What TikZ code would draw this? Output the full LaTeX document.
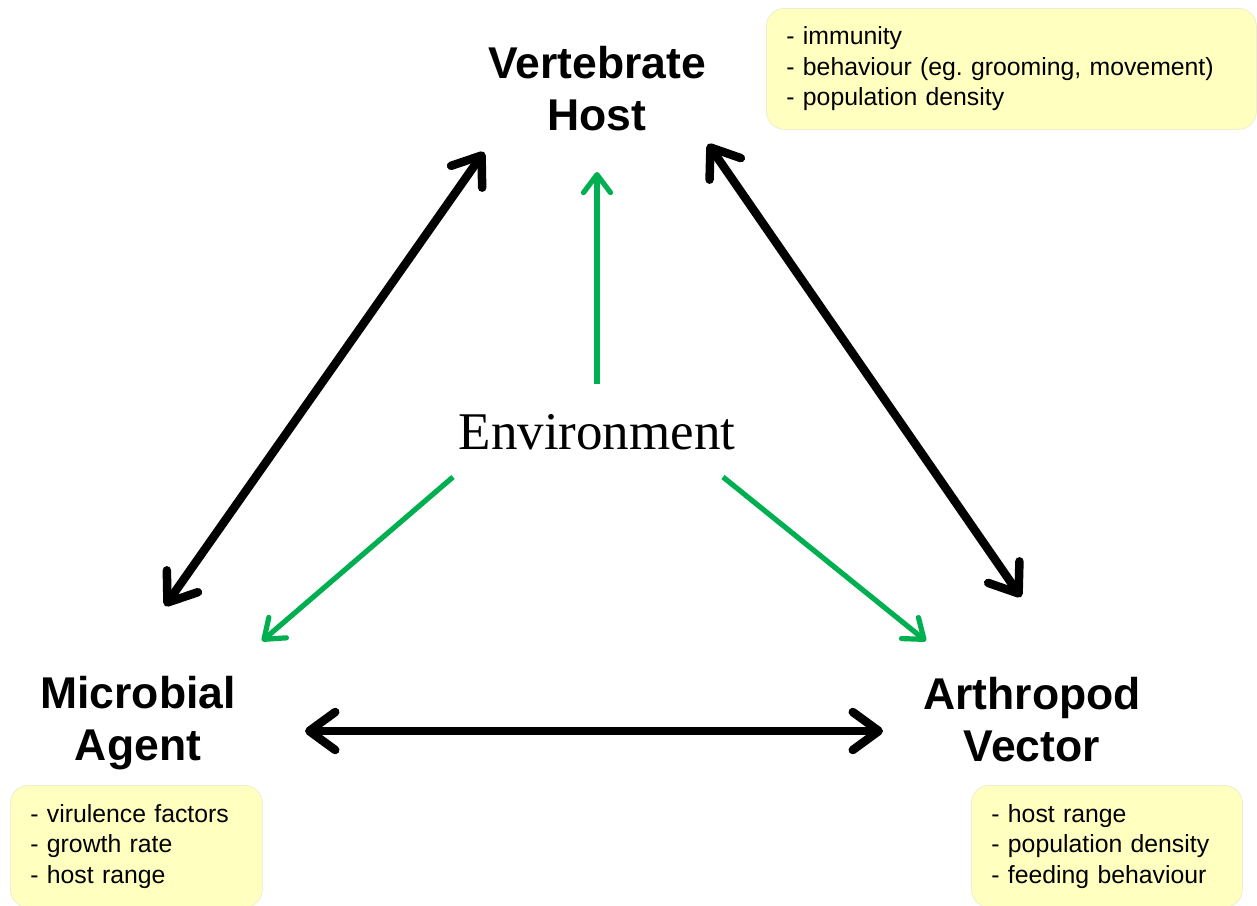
\documentclass[tikz,border=0pt]{standalone}
\usepackage{fontspec}
\setmainfont{Liberation Sans}
\newfontfamily\envfont{Liberation Serif}
\usetikzlibrary{arrows.meta}
\definecolor{linkgreen}{HTML}{00B050}
\definecolor{notefill}{HTML}{FFFFC0}
\definecolor{noteedge}{HTML}{EEEED0}
\begin{document}
\begin{tikzpicture}[x=1pt,y=-1pt,
  actor/.style={font=\fontsize{44.5}{52}\selectfont\bfseries, align=center, inner sep=0pt},
  note/.style={draw=noteedge, line width=0.8pt, fill=notefill, rounded corners=18pt,
    font=\fontsize{24.8}{30.5}\selectfont, align=left, inner ysep=0pt, anchor=north west},
  mutual/.style={line width=8.5pt, line cap=round, {Straight Barb[length=26pt,width=38pt,round]}-{Straight Barb[length=26pt,width=38pt,round]}},
  influence/.style={linkgreen, line width=5.2pt, -{Straight Barb[length=18pt,width=27pt,round]}}]
  \useasboundingbox (0,0) rectangle (1257,905);

  % the three corners of the triangle
  \node[actor] (host) at (597,89) {Vertebrate\\Host};
  \node[actor] (agent) at (138,723) {Microbial\\Agent};
  \node[actor] (vector) at (1032,720) {Arthropod\\Vector};
  \node[inner sep=0pt, font=\envfont\fontsize{53}{60}\selectfont] (env) at (597,432) {Environment};

  % notes attached to each corner
  \node[note, text width=450pt, inner xsep=20pt, minimum height=121pt] (hostnote) at (766,8)
    {- immunity\\- behaviour (eg.\ grooming, movement)\\- population density};
  \node[note, text width=212pt, inner xsep=20pt, minimum height=122pt] (agentnote) at (10,785)
    {- virulence factors\\- growth rate\\- host range};
  \node[note, text width=231pt, inner xsep=20pt, minimum height=122pt] (vectornote) at (971,785)
    {- host range\\- population density\\- feeding behaviour};

  % end points of the links
  \coordinate (ah1) at (165,606);
  \coordinate (ah2) at (484,152);
  \coordinate (hv1) at (708,144);
  \coordinate (hv2) at (1021,597);
  \coordinate (av1) at (305,731);
  \coordinate (av2) at (883,731);
  \coordinate (eh1) at (597,384);
  \coordinate (eh2) at (597,172);
  \coordinate (ea1) at (453,477);
  \coordinate (ea2) at (262,641);
  \coordinate (ev1) at (723,477);
  \coordinate (ev2) at (926,641);

  % two-way links between host, agent and vector
  \draw[mutual] (ah1) -- (ah2);
  \draw[mutual] (hv1) -- (hv2);
  \draw[mutual] (av1) -- (av2);

  % the environment acts on all three
  \draw[influence] (eh1) -- (eh2);
  \draw[influence] (ea1) -- (ea2);
  \draw[influence] (ev1) -- (ev2);
\end{tikzpicture}
\end{document}
